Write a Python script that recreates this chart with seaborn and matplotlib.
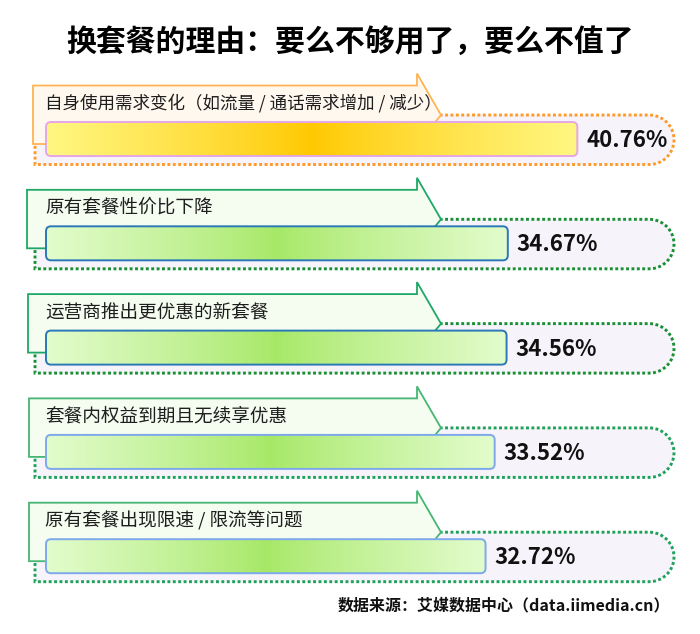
import numpy as np
import pandas as pd
import matplotlib
matplotlib.use("Agg")
import matplotlib.pyplot as plt
import seaborn as sns
from matplotlib.patches import Polygon, FancyBboxPatch
from matplotlib.colors import to_rgb

# ---------------- data ----------------
title = "换套餐的理由：要么不够用了，要么不值了"
source = "数据来源：艾媒数据中心（data.iimedia.cn）"
categories = [
    "自身使用需求变化（如流量 / 通话需求增加 / 减少）",
    "原有套餐性价比下降",
    "运营商推出更优惠的新套餐",
    "套餐内权益到期且无续享优惠",
    "原有套餐出现限速 / 限流等问题",
]
values = [40.76, 34.67, 34.56, 33.52, 32.72]
value_labels = [f"{v:.2f}%" for v in values]

# ---------------- style ----------------
sns.set_theme(style="white")
plt.rcParams["font.family"] = ["Noto Sans CJK SC", "DejaVu Sans"]

W, H = 700, 634
fig = plt.figure(figsize=(W / 100, H / 100), dpi=100)
fig.patch.set_facecolor("white")

# data axes (seaborn bars, positioned through its scales)
ax = fig.add_axes([0, 0, 1, 1])
df = pd.DataFrame({"cat": categories, "val": values})
sns.barplot(data=df, x="val", y="cat", orient="h", width=0.326, ax=ax,
            color="#cccccc")
ax.set_xlim(-9.80, 51.50)
ax.set_ylim(4.746, -1.333)
ax.axis("off")

# overlay axes in pixel units for decoration
ov = fig.add_axes([0, 0, 1, 1], zorder=2)
ov.set_xlim(0, W)
ov.set_ylim(H, 0)
ov.axis("off")
ov.patch.set_alpha(0)

def to_px(x, y):
    dx, dy = ax.transData.transform((x, y))
    return dx, H - dy

BAR_LEFT = 46
LABEL_LEFT = [33, 27, 28, 29, 29]
PEAK_X = 417
TIP_X = 441
DOT_LEFT = 35
DOT_RIGHT = 674

styles = [
    dict(lab_fc="#fff8ef", lab_ec="#ffb454", dot_c="#ff9a2a", bar_ec="#e4a6e6",
         c_center="#ffc800", c_edge="#fff783"),
    dict(lab_fc="#f5fcf0", lab_ec="#1fa865", dot_c="#1a9035", bar_ec="#2a78b8",
         c_center="#a6e866", c_edge="#e2fccc"),
    dict(lab_fc="#f5fcf0", lab_ec="#1fa865", dot_c="#1a9035", bar_ec="#2a78b8",
         c_center="#a6e866", c_edge="#e2fccc"),
    dict(lab_fc="#f5fcf0", lab_ec="#45b673", dot_c="#1ea25a", bar_ec="#7ea8ec",
         c_center="#a6e866", c_edge="#e2fccc"),
    dict(lab_fc="#f5fcf0", lab_ec="#45b673", dot_c="#1ea25a", bar_ec="#7ea8ec",
         c_center="#a6e866", c_edge="#e2fccc"),
]

patches = list(ax.patches)
for i, p in enumerate(patches):
    st = styles[i]
    p.set_visible(False)
    y_top_d = p.get_y()
    y_bot_d = p.get_y() + p.get_height()
    end_d = p.get_x() + p.get_width()
    x_end, y_top = to_px(end_d, y_top_d)
    _, y_bot = to_px(end_d, y_bot_d)
    c = (y_top + y_bot) / 2

    # dotted rounded box
    top, bot = c - 24, c + 25.5
    r = (bot - top) / 2
    cx = DOT_RIGHT - r
    ang = np.linspace(np.pi / 2, -np.pi / 2, 40)
    pts = [(DOT_LEFT, top), (cx, top)] + \
          [(cx + r * np.cos(a), (top + bot) / 2 - r * np.sin(a)) for a in ang] + \
          [(DOT_LEFT, bot)]
    ov.add_patch(Polygon(pts, closed=True, facecolor="#f6f3fb",
                         edgecolor=st["dot_c"], lw=2.1,
                         linestyle=(0, (1, 0.85)), zorder=1))

    # label flag
    L = LABEL_LEFT[i]
    T = c - 53.5
    B = c + 5
    flag = [(L, T), (PEAK_X, T), (PEAK_X, T - 12), (TIP_X, c - 24),
            (PEAK_X, B), (L, B)]
    ov.add_patch(Polygon(flag, closed=True, facecolor=st["lab_fc"],
                         edgecolor=st["lab_ec"], lw=1.3, joinstyle="miter",
                         zorder=2))

    # gradient bar
    bw = x_end - BAR_LEFT
    bh = y_bot - y_top
    box = FancyBboxPatch((BAR_LEFT, y_top), bw, bh,
                         boxstyle="round,pad=0,rounding_size=5",
                         facecolor="none", edgecolor=st["bar_ec"], lw=1.4,
                         zorder=4)
    ov.add_patch(box)
    u = np.linspace(0, 1, 400)
    t = np.abs(2 * u - 1) ** 0.85
    cc = np.array(to_rgb(st["c_center"]))
    ce = np.array(to_rgb(st["c_edge"]))
    grad = (cc[None, :] * (1 - t[:, None]) + ce[None, :] * t[:, None])[None, :, :]
    im = ov.imshow(grad, extent=(BAR_LEFT, x_end, y_bot, y_top),
                   aspect="auto", interpolation="bilinear", zorder=3)
    clip = FancyBboxPatch((BAR_LEFT, y_top), bw, bh,
                          boxstyle="round,pad=0,rounding_size=5",
                          facecolor="none", edgecolor="none",
                          transform=ov.transData)
    im.set_clip_path(clip)

    # texts
    ov.text(BAR_LEFT - 1, c - 35.5, categories[i],
            fontsize=13.4 if i else 12.6,
            color="#1e1e1e", va="center", ha="left", zorder=5)
    ov.text(x_end + 9, c + 1.5, value_labels[i], fontsize=16, fontweight="bold",
            color="#111111", va="center", ha="left", zorder=5)

ov.set_xlim(0, W)
ov.set_ylim(H, 0)

ov.text(W / 2, 42, title, fontsize=21.5, fontweight="bold", color="#000000",
        ha="center", va="center", zorder=5)
ov.text(670, 605, source, fontsize=11.5, fontweight="bold", color="#111111",
        ha="right", va="center", zorder=5)

fig.savefig("out.png", dpi=100, facecolor="white")
